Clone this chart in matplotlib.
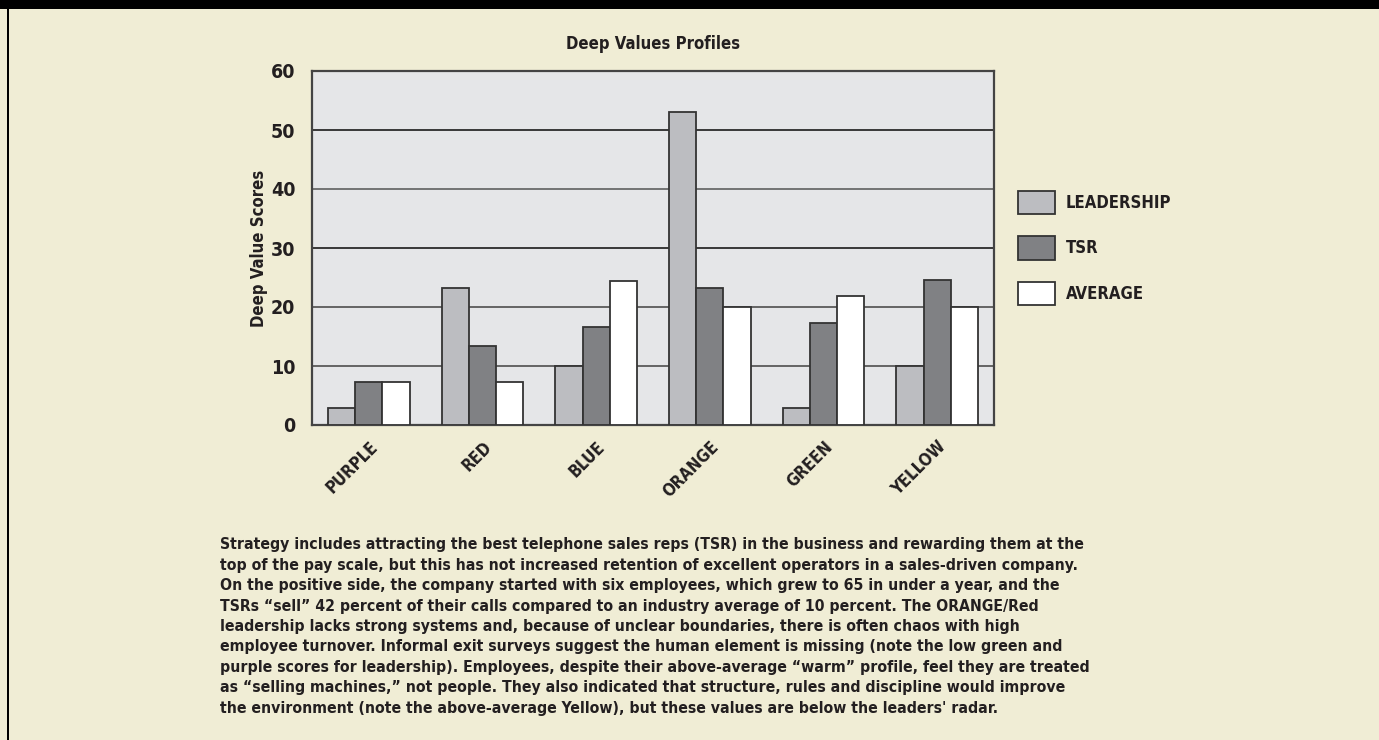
import numpy as np
import matplotlib
matplotlib.use("Agg")
import matplotlib.pyplot as plt
from matplotlib import font_manager

# chart data
categories = ["PURPLE", "RED", "BLUE", "ORANGE", "GREEN", "YELLOW"]
leadership = [2.8, 23.2, 10.0, 53.0, 2.9, 10.0]
tsr = [7.3, 13.4, 16.6, 23.2, 17.3, 24.5]
average = [7.3, 7.3, 24.4, 20.0, 21.9, 20.0]
series_names = ["LEADERSHIP", "TSR", "AVERAGE"]
yticks = [0, 10, 20, 30, 40, 50, 60]

caption_lines = [
    "Strategy includes attracting the best telephone sales reps (TSR) in the business and rewarding them at the",
    "top of the pay scale, but this has not increased retention of excellent operators in a sales-driven company.",
    "On the positive side, the company started with six employees, which grew to 65 in under a year, and the",
    "TSRs \u201csell\u201d 42 percent of their calls compared to an industry average of 10 percent. The ORANGE/Red",
    "leadership lacks strong systems and, because of unclear boundaries, there is often chaos with high",
    "employee turnover. Informal exit surveys suggest the human element is missing (note the low green and",
    "purple scores for leadership). Employees, despite their above-average \u201cwarm\u201d profile, feel they are treated",
    "as \u201cselling machines,\u201d not people. They also indicated that structure, rules and discipline would improve",
    "the environment (note the above-average Yellow), but these values are below the leaders' radar.",
]

installed = {f.name for f in font_manager.fontManager.ttflist}
if "Liberation Sans Narrow" in installed:
    plt.rcParams["font.family"] = ["Liberation Sans Narrow", "DejaVu Sans"]
else:
    plt.rcParams["font.family"] = ["DejaVu Sans"]
    plt.rcParams["font.stretch"] = "condensed"
plt.rcParams["font.weight"] = "bold"

bg = "#f0edd5"
ink = "#231f20"
W, H = 1379, 740

fig = plt.figure(figsize=(W / 100, H / 100), dpi=100, facecolor=bg)

# frame decorations: top black band and left rule
fig.add_artist(plt.Rectangle((0, 1 - 9 / H), 1, 9 / H, transform=fig.transFigure,
                             facecolor="black", edgecolor="none"))
fig.add_artist(plt.Rectangle((7 / W, 0), 2 / W, 1, transform=fig.transFigure,
                             facecolor="black", edgecolor="none"))

ax = fig.add_axes([312 / W, 1 - 425 / H, (994 - 312) / W, (425 - 71) / H])
ax.set_facecolor("#e5e6e8")

x = np.arange(len(categories))
w = 0.24
colors = ["#bcbdc1", "#808184", "#ffffff"]
for i, (vals, name, c) in enumerate(zip([leadership, tsr, average], series_names, colors)):
    ax.bar(x + (i - 1) * w, vals, w, color=c, edgecolor="#333333", linewidth=1.3,
           label=name, zorder=3)

ax.set_xlim(-0.5, len(categories) - 0.5)
ax.set_ylim(0, 60)
ax.set_yticks(yticks)
ax.set_yticklabels([str(t) for t in yticks], fontsize=14, color=ink, fontweight="bold")
ax.tick_params(axis="y", length=0, pad=12)
ax.set_xticks(x)
ax.set_xticklabels(categories, rotation=45, ha="right", rotation_mode="anchor",
                   fontsize=12, color=ink, fontweight="bold")
ax.tick_params(axis="x", length=0, pad=9)

grid_colors = {10: "#5a5a5a", 20: "#5a5a5a", 30: "#2a2a2a", 40: "#6a6a6a", 50: "#2a2a2a"}
for yv, gc in grid_colors.items():
    ax.axhline(yv, color=gc, linewidth=1.3, zorder=1)

for s in ax.spines.values():
    s.set_color("#444444")
    s.set_linewidth(1.6)

ax.set_ylabel("Deep Value Scores", fontsize=12, color=ink, fontweight="bold", labelpad=2)
fig.text(653 / W, 1 - 44 / H, "Deep Values Profiles", ha="center", va="center",
         fontsize=12, color=ink, fontweight="bold")

leg = fig.legend(loc="center left", bbox_to_anchor=(1003 / W, 1 - 248 / H), frameon=False,
                 fontsize=12, handlelength=2.2, handleheight=1.75, handletextpad=0.66,
                 labelspacing=1.35, labelcolor=ink)

for k, line in enumerate(caption_lines):
    fig.text(220 / W, 1 - (545 + 20.4 * k) / H, line, ha="left", va="center",
             fontsize=11.35, color=ink, fontweight="bold")

fig.savefig("out.png", dpi=100, facecolor=bg)
